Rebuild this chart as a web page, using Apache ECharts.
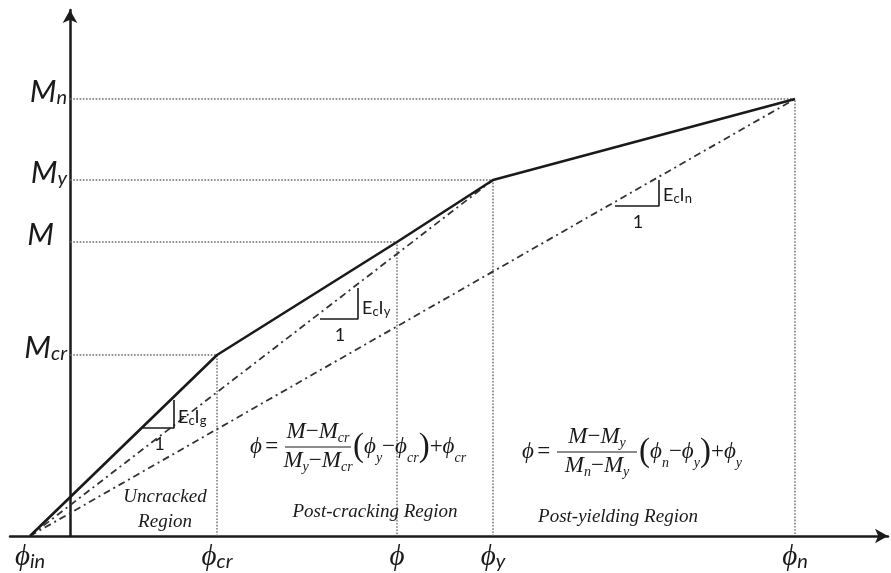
<!DOCTYPE html>
<html>
<head>
<meta charset="utf-8">
<script src="https://cdn.jsdelivr.net/npm/echarts@6/dist/echarts.min.js"></script>
<style>
  html, body { margin: 0; padding: 0; background: #fff; }
  #chart { width: 891px; height: 573px; }
</style>
</head>
<body>
<div id="chart"></div>
<script>
// Key points of the trilinear moment–curvature relation (curvature φ on x, moment M on y)
// order: φ_in (start), cracking, current point, yielding, nominal strength
const curvature = [-0.40, 1.47, 3.27, 4.23, 7.25];
const moment = [0, 1.81, 2.94, 3.56, 4.37];

// Subscripts of the tick labels
const curvatureTicks = ['in', 'cr', '', 'y', 'n'];
const momentTicks = ['', 'cr', '', 'y', 'n'];

// Secant stiffness lines run from φ_in to these key points
const secantTargets = [3, 4];

// Slope triangles: left corner (φ, M), horizontal run and vertical rise
const triangleCorner = [[0.73, 1.08], [2.50, 2.17], [5.45, 3.30]];
const triangleRun = [0.31, 0.38, 0.44];
const triangleRise = [0.28, 0.31, 0.26];
const triangleStiffness = ['g', 'y', 'n'];

const INK = '#1a1a1a';
const SERIF = 'Liberation Serif';
const SANS = 'Lato';

const pt = i => [curvature[i], moment[i]];

const series = [];

// dotted guide lines from each key point to both axes
for (let i = 1; i < curvature.length; i++) {
  series.push({
    type: 'line', silent: true, symbol: 'none', z: 1,
    data: [[0, moment[i]], pt(i), [curvature[i], 0]],
    lineStyle: { color: '#6a6a6a', width: 1.4, type: [1.6, 1.6] }
  });
}

// secant (dash-dot) lines
secantTargets.forEach(t => {
  series.push({
    type: 'line', silent: true, symbol: 'none', z: 2,
    data: [pt(0), pt(t)],
    lineStyle: { color: '#333', width: 1.8, type: [7, 4, 2, 4] }
  });
});

// the moment–curvature curve
series.push({
  type: 'line', silent: true, symbol: 'none', z: 5,
  data: curvature.map((x, i) => pt(i)),
  lineStyle: { color: INK, width: 2.6 }
});

// slope triangles
triangleCorner.forEach((c, k) => {
  const x1 = c[0] + triangleRun[k];
  series.push({
    type: 'line', silent: true, symbol: 'none', z: 4,
    data: [c, [x1, c[1]], [x1, c[1] + triangleRise[k]]],
    lineStyle: { color: INK, width: 1.6 }
  });
});

const option = {
  animation: false,
  backgroundColor: '#fff',
  grid: { left: 10, right: 3, top: 10, bottom: 37, outerBoundsMode: 'none', containLabel: false },
  xAxis: {
    type: 'value', min: -0.6, max: 8.18,
    splitLine: { show: false },
    axisTick: { show: false },
    axisLine: {
      lineStyle: { color: INK, width: 2.5 },
      symbol: ['none', 'arrow'], symbolSize: [11, 13]
    },
    axisLabel: {
      customValues: curvature,
      margin: 6,
      formatter: v => {
        const i = curvature.indexOf(v);
        const s = curvatureTicks[i];
        return s ? '{p|ϕ}{s|' + s + '}' : '{p|ϕ}';
      },
      rich: {
        p: { fontFamily: SERIF, fontStyle: 'italic', fontSize: 29, lineHeight: 30, color: INK },
        s: { fontFamily: SANS, fontStyle: 'italic', fontSize: 20, lineHeight: 20, verticalAlign: 'bottom', color: INK }
      }
    }
  },
  yAxis: {
    type: 'value', min: 0, max: 5.26,
    splitLine: { show: false },
    axisTick: { show: false },
    axisLine: {
      onZero: true,
      lineStyle: { color: INK, width: 2.5 },
      symbol: ['none', 'arrow'], symbolSize: [11, 13]
    },
    axisLabel: {
      customValues: moment.slice(1),
      // labels sit just left of the axis line, which is drawn at φ = 0
      margin: -57,
      padding: [0, 0, 14, 0],
      formatter: v => {
        const i = moment.indexOf(v);
        const s = momentTicks[i];
        return s ? '{m|M}{s|' + s + '}' : '{mp|M}';
      },
      rich: {
        m: { fontFamily: SANS, fontStyle: 'italic', fontSize: 31, lineHeight: 32, color: INK },
        mp: { fontFamily: SANS, fontStyle: 'italic', fontSize: 31, lineHeight: 32, padding: [0, 13, 0, 0], color: INK },
        s: { fontFamily: SANS, fontStyle: 'italic', fontSize: 20, lineHeight: 20, verticalAlign: 'bottom', color: INK }
      }
    }
  },
  series: series
};

const chart = echarts.init(document.getElementById('chart'), null, { renderer: 'canvas' });
chart.setOption(option);

// ---- annotations (stiffness labels, formulas, region names) ----
const toPx = (x, y) => chart.convertToPixel({ gridIndex: 0 }, [x, y]);

const fRich = {
  i: { fontFamily: SERIF, fontStyle: 'italic', fontSize: 23, lineHeight: 26, color: INK },
  r: { fontFamily: SERIF, fontSize: 23, lineHeight: 26, color: INK },
  s: { fontFamily: SERIF, fontStyle: 'italic', fontSize: 14, lineHeight: 12, verticalAlign: 'bottom', color: INK },
  p: { fontFamily: SERIF, fontSize: 33, lineHeight: 36, color: INK },
  t: { fontFamily: SERIF, fontStyle: 'italic', fontSize: 14, lineHeight: 20, verticalAlign: 'bottom', color: INK }
};
const eRich = {
  e: { fontFamily: SANS, fontSize: 18, lineHeight: 20, color: INK },
  s: { fontFamily: SANS, fontSize: 13, lineHeight: 12, verticalAlign: 'bottom', color: INK }
};

const graphics = [];
const text = (x, y, str, rich, align, vAlign) => graphics.push({
  type: 'text', x: x, y: y, silent: true, z: 10,
  style: { text: str, rich: rich, align: align || 'left', verticalAlign: vAlign || 'middle', fill: INK }
});

// E_c I labels and the unit run under each triangle
triangleCorner.forEach((c, k) => {
  const base = toPx(c[0], c[1]);
  const right = toPx(c[0] + triangleRun[k], c[1]);
  text(right[0] + 4, base[1] - 11, '{e|E}{s|c}{e|I}{s|' + triangleStiffness[k] + '}', eRich, 'left');
  text((base[0] + right[0]) / 2 + 1, base[1] + 16, '{e|1}', eRich, 'center');
});

// piecewise interpolation formulas
function formula(anchor, num, den, tail, barW) {
  const [x, y] = toPx(anchor[0], anchor[1]);
  text(x, y, '{i|ϕ} {r|=}', fRich, 'left');
  const bx = x + 35;
  graphics.push({
    type: 'line', silent: true, z: 10,
    shape: { x1: bx, y1: y, x2: bx + barW, y2: y },
    style: { stroke: INK, lineWidth: 1.2 }
  });
  text(bx + barW / 2, y - 2, num, fRich, 'center', 'bottom');
  text(bx + barW / 2, y + 1, den, fRich, 'center', 'top');
  text(bx + barW + 2, y, tail, fRich, 'left');
}
formula([1.80, 0.89],
  '{i|M}{r|−}{i|M}{s|cr}',
  '{i|M}{s|y}{r|−}{i|M}{s|cr}',
  '{p|(}{i|ϕ}{t|y}{r|−}{i|ϕ}{t|cr}{p|)}{r|+}{i|ϕ}{t|cr}', 66);
formula([4.52, 0.84],
  '{i|M}{r|−}{i|M}{s|y}',
  '{i|M}{s|n}{r|−}{i|M}{s|y}',
  '{p|(}{i|ϕ}{t|n}{r|−}{i|ϕ}{t|y}{p|)}{r|+}{i|ϕ}{t|y}', 80);

// region names
const regRich = { g: { fontFamily: SERIF, fontStyle: 'italic', fontSize: 19, lineHeight: 25, color: INK } };
const regions = [
  { at: [0.95, 0.27], label: '{g|Uncracked}\n{g|Region}' },
  { at: [3.05, 0.24], label: '{g|Post-cracking Region}' },
  { at: [5.48, 0.19], label: '{g|Post-yielding Region}' }
];
regions.forEach(r => {
  const p = toPx(r.at[0], r.at[1]);
  text(p[0], p[1], r.label, regRich, 'center');
});

chart.setOption({ graphic: graphics });
</script>
</body>
</html>
